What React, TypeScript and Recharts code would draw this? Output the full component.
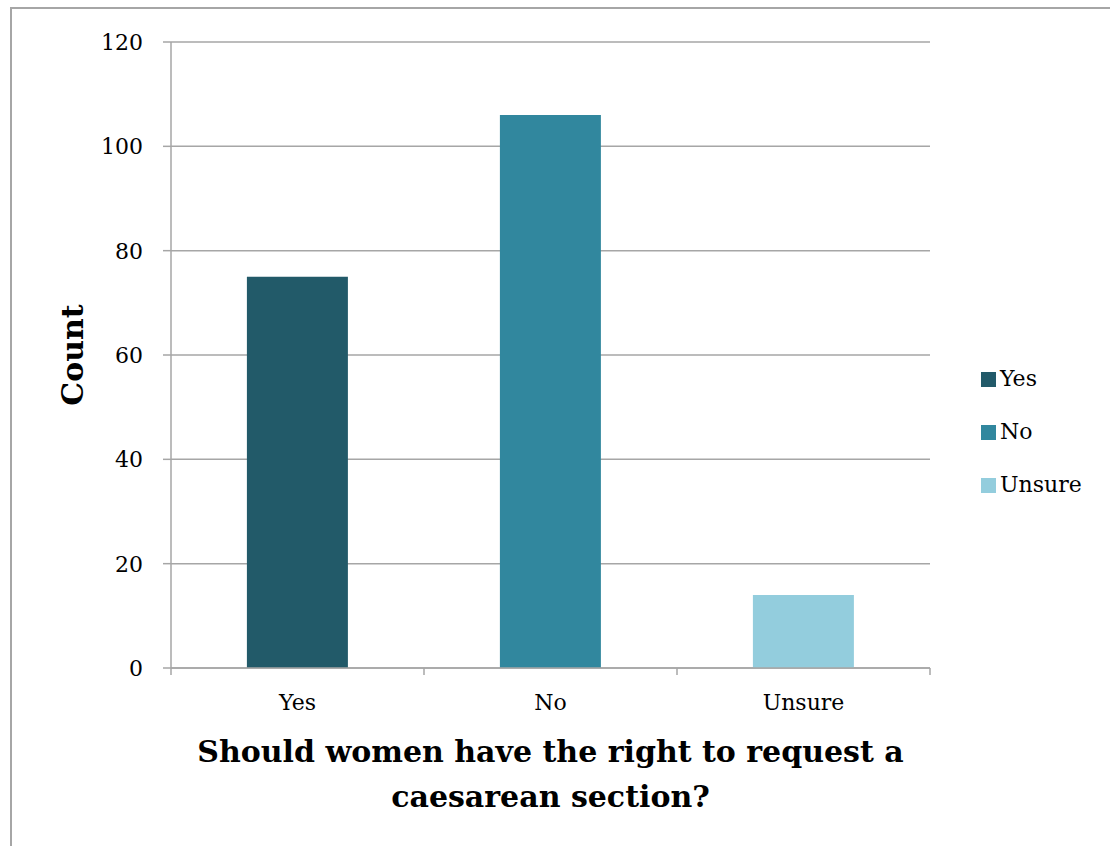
import React from "react";
import { BarChart, Bar, XAxis, YAxis, CartesianGrid, Cell, Label } from "recharts";

const categories = ["Yes", "No", "Unsure"];
const counts = [75, 106, 14];
const colors = ["#225A69", "#31879E", "#93CDDD"];
const yTicks = [0, 20, 40, 60, 80, 100, 120];
const yTitle = "Count";
const xTitleLines = ["Should women have the right to request a", "caesarean section?"];

const data = categories.map((c, i) => ({ name: c, value: counts[i] }));

const FONT = "'DejaVu Serif', 'Liberation Serif', serif";
const GRID = "#A6A6A6";

const XTick = (props: any) => {
  const { x, y, payload, index, visibleTicksCount, width } = props;
  const band = width / visibleTicksCount;
  const left = x - band / 2;
  const right = x + band / 2;
  return (
    <g>
      <line x1={left} x2={left} y1={y - 8} y2={y - 1} stroke={GRID} strokeWidth={1.5} />
      {index === visibleTicksCount - 1 && (
        <line x1={right} x2={right} y1={y - 8} y2={y - 1} stroke={GRID} strokeWidth={1.5} />
      )}
      <text x={x} y={y + 34} textAnchor="middle" fontFamily={FONT} fontSize={22} fill="#000">
        {payload.value}
      </text>
    </g>
  );
};

const YTick = (props: any) => {
  const { x, y, payload } = props;
  return (
    <text x={x - 18} y={y + 8} textAnchor="end" fontFamily={FONT} fontSize={22} fill="#000">
      {payload.value}
    </text>
  );
};

const YTitle = (props: any) => {
  const { viewBox } = props;
  const cy = viewBox.y + viewBox.height / 2;
  const cx = 83;
  return (
    <text
      x={cx}
      y={cy}
      transform={`rotate(-90 ${cx} ${cy})`}
      textAnchor="middle"
      fontFamily={FONT}
      fontWeight="bold"
      fontSize={30}
      fill="#000"
    >
      {yTitle}
    </text>
  );
};

const XTitle = (props: any) => {
  const { viewBox } = props;
  const cx = viewBox.x + viewBox.width / 2;
  return (
    <text textAnchor="middle" fontFamily={FONT} fontWeight="bold" fontSize={30} fill="#000">
      {xTitleLines.map((l, i) => (
        <tspan key={i} x={cx} y={762 + i * 45}>
          {l}
        </tspan>
      ))}
    </text>
  );
};

export default function App() {
  return (
    <div style={{ position: "absolute", left: 0, top: 0, width: 1110, height: 846, background: "#fff" }}>
      <div
        style={{
          position: "absolute",
          left: 10,
          top: 7,
          width: 1100,
          height: 839,
          borderLeft: "2px solid #A6A6A6",
          borderTop: "2px solid #A6A6A6",
          boxSizing: "border-box",
        }}
      />
      <div style={{ position: "absolute", left: 0, top: 0 }}>
        <BarChart
          width={1110}
          height={846}
          data={data}
          margin={{ top: 42, right: 180, bottom: 138, left: 111 }}
          barCategoryGap="30%"
        >
          <CartesianGrid vertical={false} stroke={GRID} strokeWidth={1.5} />
          <XAxis
            dataKey="name"
            height={40}
            axisLine={{ stroke: GRID, strokeWidth: 1.5 }}
            tickLine={false}
            tick={<XTick />}
            interval={0}
          >
            <Label content={<XTitle />} />
          </XAxis>
          <YAxis
            width={60}
            domain={[0, 120]}
            ticks={yTicks}
            axisLine={{ stroke: GRID, strokeWidth: 1.5 }}
            tickLine={{ stroke: GRID, strokeWidth: 1.5 }}
            tickSize={8}
            tick={<YTick />}
          >
            <Label content={<YTitle />} />
          </YAxis>
          <Bar dataKey="value" isAnimationActive={false}>
            {data.map((d, i) => (
              <Cell key={d.name} fill={colors[i]} />
            ))}
          </Bar>
        </BarChart>
      </div>
      {categories.map((c, i) => (
        <div
          key={c}
          style={{
            position: "absolute",
            left: 981,
            top: 366 + i * 53,
            display: "flex",
            alignItems: "center",
            fontFamily: FONT,
            fontSize: 22,
            color: "#000",
            lineHeight: "26px",
          }}
        >
          <span style={{ display: "inline-block", width: 15, height: 15, background: colors[i], marginRight: 4 }} />
          <span>{c}</span>
        </div>
      ))}
    </div>
  );
}
